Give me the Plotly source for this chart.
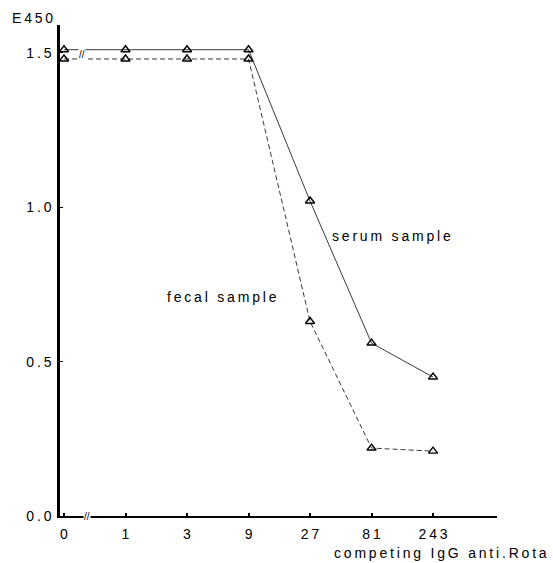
import plotly.graph_objects as go

# ---- data ----
dose_labels = ["0", "1", "3", "9", "27", "81", "243"]
serum_e450 = [1.51, 1.51, 1.51, 1.51, 1.02, 0.56, 0.45]
fecal_e450 = [1.48, 1.48, 1.48, 1.48, 0.63, 0.22, 0.21]
y_ticks = [0.0, 0.5, 1.0, 1.5]
y_tick_text = ["0.0", "0.5", "1.0", "1.5"]

TS = "\u2009"
def spaced(s):
    return TS.join(list(s))

x_idx = list(range(len(dose_labels)))
FONT = "Liberation Sans, Arial, Helvetica, sans-serif"

fig = go.Figure()
fig.add_trace(go.Scatter(
    x=x_idx, y=serum_e450, mode="lines+markers", name="serum sample",
    line=dict(color="#222", width=0.9),
    marker=dict(symbol="triangle-up-open", size=8, color="black", line=dict(width=1.4)),
))
fig.add_trace(go.Scatter(
    x=x_idx, y=fecal_e450, mode="lines+markers", name="fecal sample",
    line=dict(color="#222", width=0.9, dash="5px,3px"),
    marker=dict(symbol="triangle-up-open", size=8, color="black", line=dict(width=1.4)),
))

fig.update_layout(
    width=553, height=563,
    margin=dict(l=60, r=56, t=25, b=47),
    paper_bgcolor="white", plot_bgcolor="white",
    showlegend=False,
    font=dict(family=FONT, size=14, color="black"),
    xaxis=dict(
        range=[-0.065, 7.04], tickmode="array", tickvals=x_idx,
        ticktext=[spaced(t) for t in dose_labels],
        showline=True, linecolor="black", linewidth=2, showgrid=False, zeroline=False,
        ticks="inside", ticklen=3, tickcolor="black", tickwidth=1.5,
        ticklabelstandoff=4, tickfont=dict(size=14),
    ),
    yaxis=dict(
        range=[0, 1.59], tickmode="array", tickvals=y_ticks,
        ticktext=[spaced(t) for t in y_tick_text],
        showline=True, linecolor="black", linewidth=2.5, showgrid=False, zeroline=False,
        ticks="inside", ticklen=3, tickcolor="black", tickwidth=1,
        ticklabelstandoff=3, tickfont=dict(size=14),
    ),
)

ann = [
    dict(text=spaced("serum sample"), x=4.33, y=0.907, xref="x", yref="y", xanchor="left", yanchor="middle", showarrow=False),
    dict(text=spaced("fecal sample"), x=1.64, y=0.709, xref="x", yref="y", xanchor="left", yanchor="middle", showarrow=False),
    dict(text=spaced("E450"), x=-0.114, y=1.014, xref="paper", yref="paper", xanchor="left", yanchor="middle", showarrow=False),
    dict(text=spaced("competing IgG anti.Rota"), x=1.12, y=-0.075, xref="paper", yref="paper", xanchor="right", yanchor="middle", showarrow=False),
    dict(text="//", x=0.37, y=0, xref="x", yref="y", xanchor="center", yanchor="middle", showarrow=False,
         bgcolor="white", borderpad=0, font=dict(size=10)),
    dict(text="//", x=0.3, y=1.495, xref="x", yref="y", xanchor="center", yanchor="middle", showarrow=False,
         bgcolor="white", borderpad=0, font=dict(size=10)),
]
fig.update_layout(annotations=ann)

fig.write_html("out.html")
